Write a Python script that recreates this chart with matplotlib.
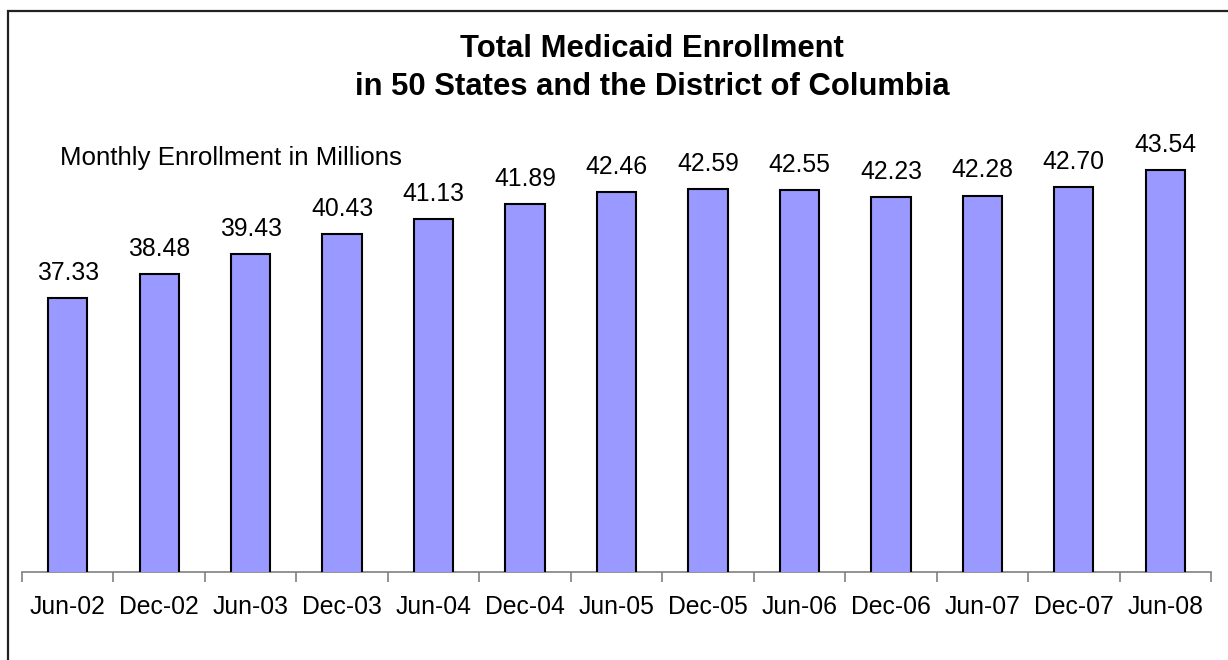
import matplotlib
matplotlib.use("Agg")
import matplotlib.pyplot as plt
from matplotlib.patches import Rectangle
import numpy as np

categories = ["Jun-02", "Dec-02", "Jun-03", "Dec-03", "Jun-04", "Dec-04", "Jun-05",
              "Dec-05", "Jun-06", "Dec-06", "Jun-07", "Dec-07", "Jun-08"]
enrollment = [37.33, 38.48, 39.43, 40.43, 41.13, 41.89, 42.46,
              42.59, 42.55, 42.23, 42.28, 42.70, 43.54]

plt.rcParams['font.family'] = ['Liberation Sans', 'DejaVu Sans']

W, H = 1228, 660
fig = plt.figure(figsize=(W / 100, H / 100), dpi=100)

# outer frame
fig.patches.append(Rectangle((8 / W, -0.05), 1.2, (H - 11) / H + 0.05,
                             transform=fig.transFigure, fill=False,
                             edgecolor="#222222", linewidth=1.6))

left, right = 22, 1211
base_y, top_y = 572.3, 130
ax = fig.add_axes([left / W, (H - base_y) / H, (right - left) / W, (base_y - top_y) / H])
ax.set_facecolor("none")

x = np.arange(len(categories))
ax.bar(x, enrollment, width=0.43, color="#9999FF", edgecolor="black", linewidth=1.5, zorder=3)
for xi, v in zip(x, enrollment):
    ax.annotate(f"{v:.2f}", (xi, v), xytext=(0, 13), textcoords="offset points",
                ha="center", va="baseline", fontsize=17.8)

ax.set_xlim(-0.5, len(categories) - 0.5)
ax.set_ylim(24, 24 + (base_y - top_y) / 20.61)

for s in ["top", "left", "right"]:
    ax.spines[s].set_visible(False)
ax.spines["bottom"].set_color("#808080")
ax.spines["bottom"].set_linewidth(1.2)
ax.set_yticks([])
ax.set_xticks(x)
ax.set_xticklabels(categories, fontsize=17.8)
ax.tick_params(axis="x", which="major", length=0, pad=16)
ax.set_xticks(np.arange(-0.5, len(categories), 1.0), minor=True)
ax.tick_params(axis="x", which="minor", length=7, color="#808080", width=1.2)

fig.text(652 / W, (H - 57) / H, "Total Medicaid Enrollment", ha="center", va="baseline",
         fontsize=22.3, fontweight="bold")
fig.text(652 / W, (H - 95) / H, "in 50 States and the District of Columbia", ha="center",
         va="baseline", fontsize=22.3, fontweight="bold")
fig.text(60 / W, (H - 158) / H, "Monthly Enrollment in Millions", ha="left", va="center",
         fontsize=18.6)

fig.savefig("out.png", dpi=100)
